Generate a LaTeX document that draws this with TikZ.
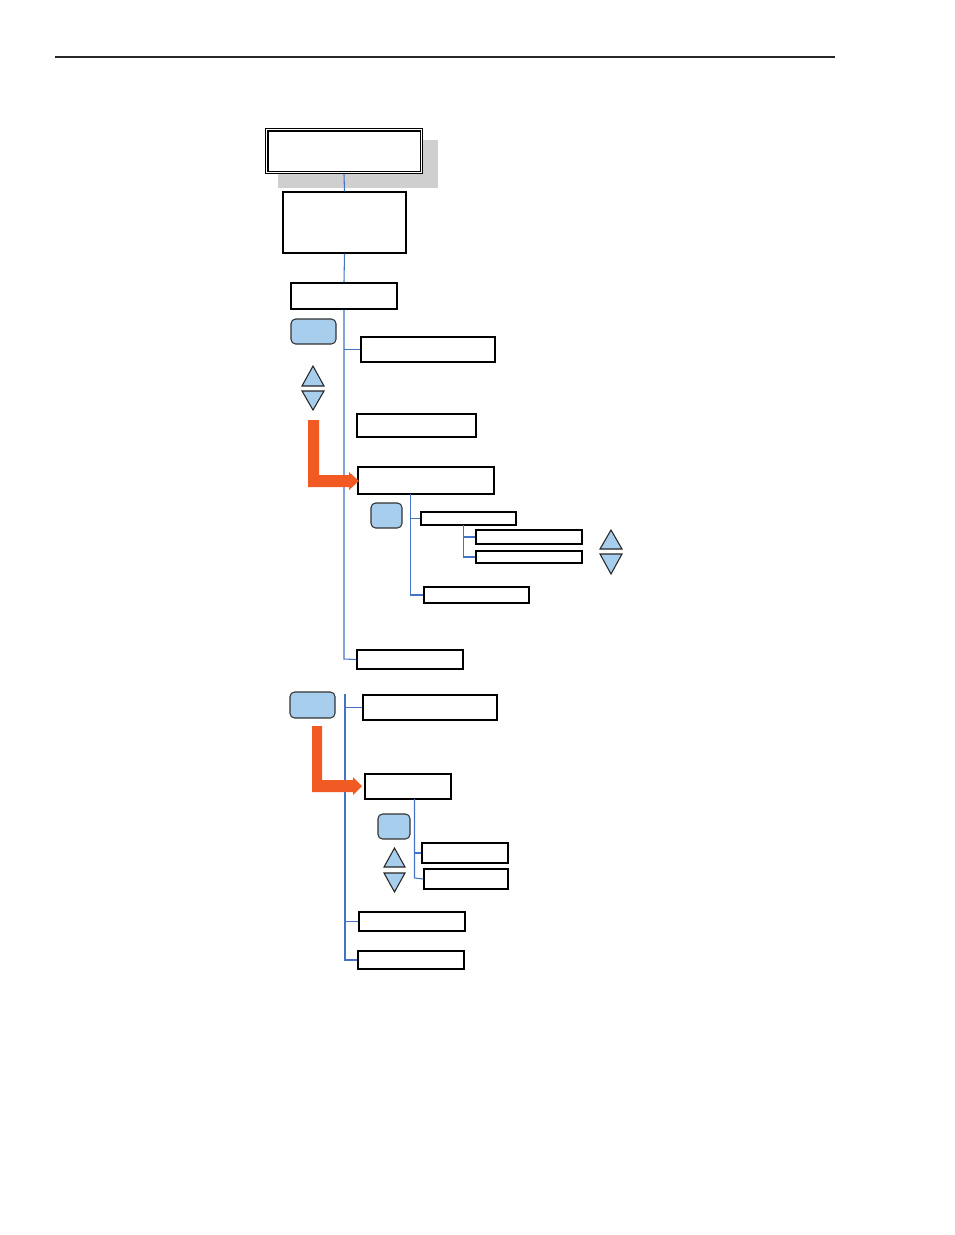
\documentclass[tikz,border=0pt]{standalone}
\usetikzlibrary{fit}
\definecolor{linkblue}{HTML}{4472C4}
\definecolor{btnfill}{HTML}{A8CEEE}
\definecolor{orangearrow}{HTML}{F15A22}
\definecolor{shadowgray}{HTML}{CFCFCF}
\tikzset{
  box/.style={draw=black, line width=1.1pt, fill=white, inner sep=0pt, rectangle},
  thinbox/.style={draw=black, line width=0.9pt, fill=white, inner sep=0pt, rectangle},
  btn/.style={draw=black!80, line width=0.8pt, fill=btnfill, rounded corners=3.5pt, inner sep=0pt, rectangle},
  link/.style={draw=linkblue, line width=0.8pt},
  tri/.style={draw=black!85, line width=0.8pt, fill=btnfill, line join=miter},
  bigarrow/.style={fill=orangearrow, draw=none},
}
\begin{document}
\begin{tikzpicture}[x=0.75pt, y=-0.75pt]
\useasboundingbox (0,0) rectangle (954,1235);
% header rule
\coordinate (ruleL) at (55,57);
\coordinate (ruleR) at (835,57);
\draw[line width=0.8pt, black!85] (ruleL) -- (ruleR);

% top box with shadow
\fill[shadowgray] (278,140) rectangle (438,188);
\node[thinbox, line width=0.8pt, fit={(265.5,128.5) (422.5,173.5)}] (top) {};
\draw[black, line width=0.8pt] ([shift={(3,3)}]top.north west) rectangle ([shift={(-3,-3)}]top.south east);
\node[box, line width=0.9pt, fit={(283,192) (406,253)}] (b2) {};
\node[box, fit={(291,283) (397,309)}] (b3) {};

\draw[link] (top.south) -- (b2.north);
\draw[link] (b2.south) -- (b3.north);

% first section
\node[btn, fit={(291,319) (336,344)}] (btnA) {};
\node[box, fit={(361,337) (495,362)}] (b4) {};
\node[thinbox, fit={(357,414) (476,437)}] (b5) {};
\node[thinbox, fit={(358,467) (494,494)}] (b6) {};
\node[thinbox, fit={(357,650) (463,669)}] (b9) {};

\coordinate (m1bot) at (344,659);
\draw[link] (b3.south) -- (m1bot) -- (b9.west);
\draw[link] (344,349.5) -- (b4.west);

% triangles A
\draw[tri] (313,366) -- (324,386) -- (302,386) -- cycle;
\draw[tri] (302,391) -- (324,391) -- (313,410) -- cycle;

% orange arrow A
\path[bigarrow] (308,420) -- (319,420) -- (319,475) -- (349,475) -- (349,472) -- (359,481) -- (349,490) -- (349,487) -- (308,487) -- cycle;

% sub-tree under b6
\node[btn, fit={(371,503) (402,528)}] (btnB) {};
\node[thinbox, fit={(421,512) (516,525)}] (b7) {};
\node[thinbox, fit={(476,530) (582,544)}] (b7a) {};
\node[thinbox, fit={(476,551) (582,563)}] (b7b) {};
\node[thinbox, fit={(424,587) (529,603)}] (b8) {};

\coordinate (s1bot) at (410.5,595);
\draw[link] (410.5,494) -- (s1bot) -- (b8.west);
\draw[link] (410.5,518.5) -- (b7.west);
\coordinate (s2bot) at (463.5,557);
\draw[link] (463.5,525) -- (s2bot) -- (b7b.west);
\draw[link, line width=1.3pt] (463.5,537) -- (b7a.west);

% triangles B
\draw[tri] (611,530) -- (622,549) -- (600,549) -- cycle;
\draw[tri] (600,554) -- (622,554) -- (611,574) -- cycle;

% second section
\node[btn, fit={(290,692) (335,718)}] (btnC) {};
\node[thinbox, fit={(363,695) (497,720)}] (c1) {};
\node[box, fit={(365,774) (451,799)}] (c2) {};
\node[btn, fit={(378,814) (410,839)}] (btnD) {};
\node[thinbox, fit={(422,843) (508,863)}] (c3) {};
\node[box, fit={(424,869) (508,889)}] (c4) {};
\node[thinbox, fit={(359,912) (465,931)}] (c5) {};
\node[box, fit={(358,951) (464,969)}] (c6) {};

\coordinate (m2top) at (345,694);
\coordinate (m2bot) at (345,960);
\draw[link] (m2top) -- (m2bot) -- (c6.west);
\draw[link] (345,707.5) -- (c1.west);
\draw[link] (345,921.5) -- (c5.west);
\coordinate (s3bot) at (414.5,878);
\draw[link] (414.5,799) -- (s3bot) -- (c4.west);
\draw[link] (414.5,853) -- (c3.west);

% triangles C
\draw[tri] (394.5,848) -- (405,867) -- (384,867) -- cycle;
\draw[tri] (384,873) -- (405,873) -- (394.5,892) -- cycle;

% orange arrow B
\path[bigarrow] (312,726) -- (322,726) -- (322,780) -- (353,780) -- (353,777) -- (362,786) -- (353,795) -- (353,792) -- (312,792) -- cycle;
\end{tikzpicture}
\end{document}
